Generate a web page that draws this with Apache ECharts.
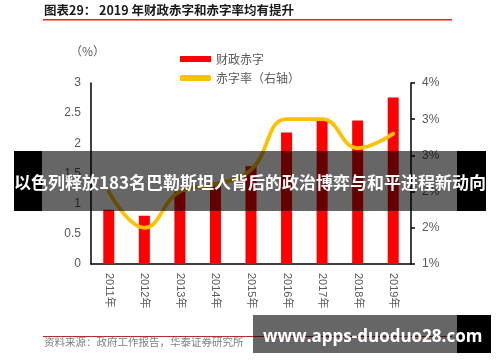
<!DOCTYPE html>
<html><head><meta charset="utf-8">
<script src="https://cdn.jsdelivr.net/npm/echarts@6/dist/echarts.min.js"></script>
<style>html,body{margin:0;padding:0;background:#fff}#c{width:500px;height:362px}</style>
</head><body><div id="c"></div>
<script>
const categories = ['2011年','2012年','2013年','2014年','2015年','2016年','2017年','2018年','2019年'];
const deficit = [0.9, 0.8, 1.2, 1.35, 1.62, 2.18, 2.38, 2.38, 2.76];
const deficitRate = [2.0, 1.5, 2.0, 2.1, 2.3, 3.0, 3.0, 2.6, 2.8];
const leftTickLabels = ['0','0.5','1','1.5','2','2.5','3'];
const rightTickLabels = ['1%','2%','2%','3%','3%','4%'];
const seriesNames = ['财政赤字','赤字率（右轴）'];

const chart = echarts.init(document.getElementById('c'), null, {renderer:'canvas'});
const grey = '#595959';
const font = 'Liberation Sans, Arial, "Noto Sans CJK SC", sans-serif';
const cjk = '"Noto Sans CJK SC", sans-serif';
chart.setOption({
  animation:false,
  backgroundColor:'#fff',
  grid:{left:91,right:89,top:83,bottom:98,containLabel:false},
  legend:{
    orient:'vertical', left:175, top:48, itemGap:7, itemWidth:31, itemHeight:6,
    textStyle:{color:grey,fontSize:12,fontFamily:cjk},
    data:[{name:seriesNames[0],icon:'rect'},{name:seriesNames[1],icon:'roundRect'}]
  },
  xAxis:{
    type:'category', data:categories,
    axisLine:{lineStyle:{color:'#000',width:1.5}},
    axisTick:{show:false},
    axisLabel:{rotate:-90,margin:9,color:grey,fontSize:11,fontFamily:font}
  },
  yAxis:[{
    type:'value', min:0, max:3, interval:0.5,
    axisLine:{show:true,lineStyle:{color:'#000',width:1.5}},
    axisTick:{show:false}, splitLine:{show:false},
    axisLabel:{margin:10,color:grey,fontSize:12,fontFamily:font,
      formatter:(v)=>leftTickLabels[Math.round(v/0.5)]}
  },{
    type:'value', min:1, max:3.5, interval:0.5, position:'right',
    axisLine:{show:true,lineStyle:{color:'#000',width:1.5}},
    axisTick:{show:true,length:4,lineStyle:{color:'#000',width:1.5}},
    splitLine:{show:false},
    axisLabel:{margin:11,color:grey,fontSize:12,fontFamily:font,
      formatter:(v)=>rightTickLabels[Math.round((v-1)/0.5)]}
  }],
  series:[{
    name:seriesNames[0], type:'bar', data:deficit, barWidth:11,
    itemStyle:{color:'#FF0000'}
  },{
    name:seriesNames[1], type:'line', yAxisIndex:1, data:deficitRate, smooth:0.45,
    symbol:'none', itemStyle:{color:'#FFC000'},
    lineStyle:{color:'#FFC000',width:3.8,cap:'round'}
  }],
  graphic:[
    {type:'text',left:44,top:4,style:{text:'图表29： 2019 年财政赤字和赤字率均有提升',fill:'#1a1a1a',font:'bold 12.5px "Noto Sans CJK SC", sans-serif'}},
    {type:'rect',shape:{x:43,y:19,width:409,height:1.5},style:{fill:'#e2231a'}},
    {type:'text',left:70,top:45,style:{text:'（%）',fill:grey,font:'12px "Noto Sans CJK SC", sans-serif'}},
    {type:'rect',shape:{x:43,y:336,width:409,height:1},style:{fill:'#b0302a'}},
    {type:'text',left:44,top:337,style:{text:'资料来源：政府工作报告，华泰证券研究所',fill:'#808080',font:'10.5px "Noto Sans CJK SC", sans-serif'}},
    {type:'rect',z:100,shape:{x:14,y:151,width:28,height:60},style:{fill:'#000'}},
    {type:'rect',z:100,shape:{x:42,y:151,width:415,height:60},style:{fill:'rgba(0,0,0,0.6)'}},
    {type:'rect',z:100,shape:{x:457,y:151,width:29,height:60},style:{fill:'#000'}},
    {type:'text',z:101,x:250,y:183,style:{text:'以色列释放183名巴勒斯坦人背后的政治博弈与和平进程新动向',fill:'#fff',align:'center',verticalAlign:'middle',font:'bold 17px "Noto Sans CJK SC", sans-serif'}},
    {type:'rect',z:100,shape:{x:253,y:315,width:204,height:38},style:{fill:'rgba(0,0,0,0.6)'}},
    {type:'rect',z:100,shape:{x:457,y:315,width:34,height:38},style:{fill:'#000'}},
    {type:'text',z:101,x:263,y:337,style:{text:'www.apps-duoduo28.com',fill:'#fff',align:'left',verticalAlign:'middle',font:'bold 17px "Open Sans", "Noto Sans", sans-serif'}}
  ]
});
</script></body></html>
